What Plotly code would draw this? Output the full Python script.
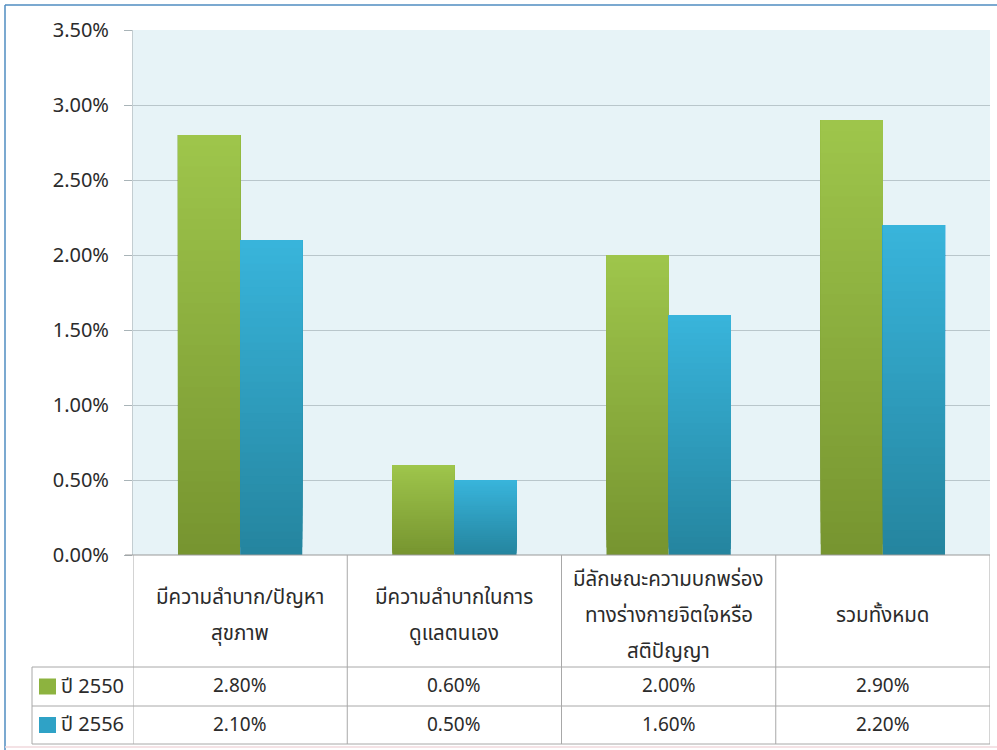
import plotly.graph_objects as go

# Categories (each entry holds the wrapped lines of the table header)
categories = [
    ["มีความลำบาก/ปัญหา", "สุขภาพ"],
    ["มีความลำบากในการ", "ดูแลตนเอง"],
    ["มีลักษณะความบกพร่อง", "ทางร่างกายจิตใจหรือ", "สติปัญญา"],
    ["รวมทั้งหมด"],
]
series_names = ["ปี 2550", "ปี 2556"]
values_2550 = [0.028, 0.006, 0.020, 0.029]
values_2556 = [0.021, 0.005, 0.016, 0.022]
y_ticks = [0.0, 0.005, 0.01, 0.015, 0.02, 0.025, 0.03, 0.035]

# Gradient end colours per series (bottom, top)
grad_2550 = ((0x77, 0x95, 0x30), (0x9E, 0xC5, 0x4B))
grad_2556 = ((0x25, 0x85, 0x9F), (0x38, 0xB4, 0xDB))
key_colors = ["#8DB33F", "#2FA2C6"]

FONT = "Tahoma, 'Noto Sans Thai', 'Noto Sans', 'DejaVu Sans', sans-serif"
TEXT_COLOR = "#2b2b2b"
W, H = 997, 750
ML, MR, MT, MB = 133, 7, 30, 195
PW, PH = W - ML - MR, H - MT - MB


def px_x(px):
    return (px - ML) / PW


def px_y(py):
    return (H - MB - py) / PH


def mix(c0, c1, t):
    r, g, b = (round(a + (b_ - a) * t) for a, b_ in zip(c0, c1))
    return f"rgb({r},{g},{b})"


fig = go.Figure()
xs = list(range(len(categories)))

# Each bar is layered from bottom to top: every layer runs from its own
# base up to the bar's value, so the stack shows a smooth vertical gradient.
N_LAYERS = 40
for name, vals, grad in [("2550", values_2550, grad_2550), ("2556", values_2556, grad_2556)]:
    for k in range(N_LAYERS):
        t = k / (N_LAYERS - 1)
        fig.add_trace(go.Bar(
            x=xs,
            y=[v * (1 - k / N_LAYERS) for v in vals],
            base=[v * k / N_LAYERS for v in vals],
            offsetgroup=name,
            marker=dict(color=mix(grad[0], grad[1], t), line=dict(width=0)),
            showlegend=False,
            hoverinfo="skip",
        ))

fig.update_layout(
    width=W, height=H,
    margin=dict(l=ML, r=MR, t=MT, b=MB),
    barmode="group",
    bargap=0.42,
    bargroupgap=0.0,
    paper_bgcolor="white",
    plot_bgcolor="#E7F3F7",
    font=dict(family=FONT, color=TEXT_COLOR, size=18),
    xaxis=dict(
        range=[-0.5, len(categories) - 0.5],
        showticklabels=False,
        showgrid=False,
        zeroline=False,
        showline=False,
        ticks="",
    ),
    yaxis=dict(
        range=[0, 0.035],
        tickvals=y_ticks,
        tickformat=".2%",
        tickfont=dict(size=20, family=FONT, color=TEXT_COLOR),
        showgrid=True,
        gridcolor="#B9C6CB",
        gridwidth=1.2,
        zeroline=False,
        showline=True,
        linecolor="#C3CDD1",
        linewidth=1,
        ticks="outside",
        ticklen=8,
        tickcolor="#A9B4B8",
        tickwidth=1.2,
        ticklabelstandoff=11,
    ),
)

shapes = []
line_col = "#A8A8A8"
y_axis_px = H - MB
row1_px, row2_px, bottom_px = 667, 706, 744
table_left_px = 32

# Horizontal axis line at zero
shapes.append(dict(type="line", xref="paper", yref="paper",
                   x0=px_x(ML - 8), x1=1, y0=0, y1=0,
                   line=dict(color="#9A9A9A", width=1.2)))
# Table horizontal lines
for py in (row1_px, row2_px, bottom_px):
    shapes.append(dict(type="line", xref="paper", yref="paper",
                       x0=px_x(table_left_px), x1=1, y0=px_y(py), y1=px_y(py),
                       line=dict(color=line_col, width=1)))
# Table left border (legend column)
shapes.append(dict(type="line", xref="paper", yref="paper",
                   x0=px_x(table_left_px), x1=px_x(table_left_px),
                   y0=px_y(row1_px), y1=px_y(bottom_px),
                   line=dict(color=line_col, width=1)))
# Column dividers at category boundaries
for i in range(len(categories) + 1):
    shapes.append(dict(type="line", xref="x", yref="paper",
                       x0=i - 0.5, x1=i - 0.5, y0=0, y1=px_y(bottom_px),
                       line=dict(color=line_col, width=1)))
# Legend keys
for j, col in enumerate(key_colors):
    cy = (row1_px + row2_px) / 2 if j == 0 else (row2_px + bottom_px) / 2
    shapes.append(dict(type="rect", xref="paper", yref="paper",
                       x0=px_x(39), x1=px_x(56), y0=px_y(cy + 8), y1=px_y(cy - 8),
                       fillcolor=col, line=dict(width=0)))
# Outer frame (left and top edges)
shapes.append(dict(type="line", xref="paper", yref="paper",
                   x0=px_x(5), x1=px_x(5), y0=px_y(5), y1=px_y(H),
                   line=dict(color="#4F8DC0", width=1.5)))
shapes.append(dict(type="line", xref="paper", yref="paper",
                   x0=px_x(5), x1=px_x(W), y0=px_y(5), y1=px_y(5),
                   line=dict(color="#4F8DC0", width=1.5)))
# Bottom edge
shapes.append(dict(type="line", xref="paper", yref="paper",
                   x0=px_x(5), x1=px_x(W), y0=px_y(747), y1=px_y(747),
                   line=dict(color="#F0D8DC", width=1.5)))

annotations = []
header_cy = 615
line_step = 36
for i, lines in enumerate(categories):
    first = header_cy - line_step * (len(lines) - 1) / 2
    for n, txt in enumerate(lines):
        annotations.append(dict(x=i, y=px_y(first + n * line_step), xref="x", yref="paper",
                                text=txt, showarrow=False, align="center",
                                font=dict(size=20.5, family=FONT, color=TEXT_COLOR),
                                xanchor="center", yanchor="middle"))
for j, (name, vals) in enumerate([(series_names[0], values_2550), (series_names[1], values_2556)]):
    cy = (row1_px + row2_px) / 2 if j == 0 else (row2_px + bottom_px) / 2
    annotations.append(dict(x=px_x(59), y=px_y(cy), xref="paper", yref="paper",
                            text=name, showarrow=False, xanchor="left", yanchor="middle",
                            font=dict(size=20, family=FONT, color=TEXT_COLOR)))
    for i, v in enumerate(vals):
        annotations.append(dict(x=i, y=px_y(cy), xref="x", yref="paper",
                                text=f"{v * 100:.2f}%", showarrow=False,
                                xanchor="center", yanchor="middle",
                                font=dict(size=19, family=FONT, color=TEXT_COLOR)))

fig.update_layout(shapes=shapes, annotations=annotations)
fig.write_html("out.html")
